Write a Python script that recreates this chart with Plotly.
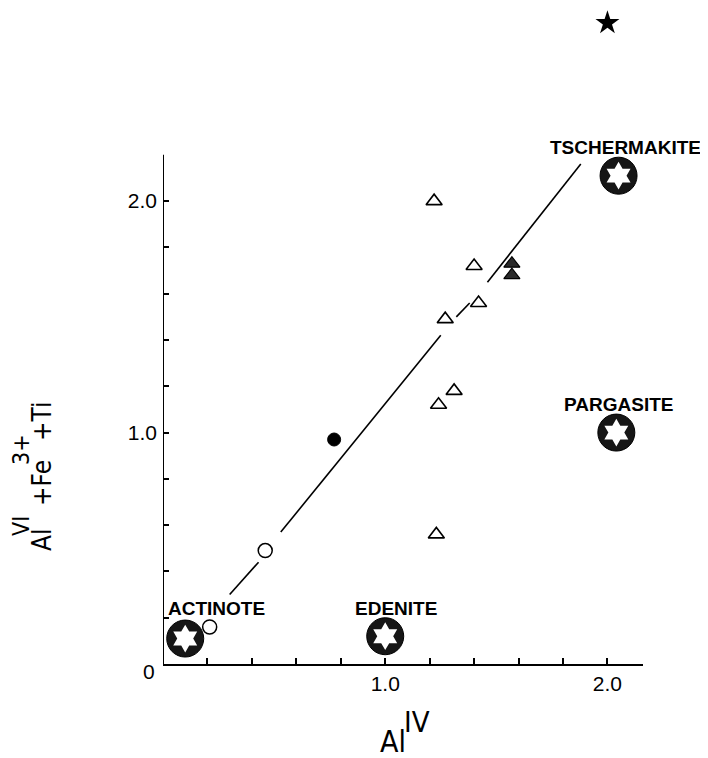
import plotly.graph_objects as go

# ---- data ----
open_circle_x = [0.21, 0.46]
open_circle_y = [0.16, 0.49]
filled_circle_x = [0.77]
filled_circle_y = [0.97]
open_tri_x = [1.22, 1.40, 1.42, 1.27, 1.31, 1.24, 1.23]
open_tri_y = [2.00, 1.72, 1.56, 1.49, 1.18, 1.12, 0.56]
filled_tri_x = [1.57, 1.57]
filled_tri_y = [1.73, 1.68]
end_names = ["ACTINOTE", "EDENITE", "PARGASITE", "TSCHERMAKITE"]
end_x = [0.10, 1.00, 2.04, 2.05]
end_y = [0.11, 0.12, 1.00, 2.11]
label_x = [0.24, 1.05, 2.05, 2.08]
label_y = [0.24, 0.24, 1.12, 2.23]
stray_star_x = [2.00]
stray_star_y = [2.77]
fit_x = [0.30, 0.43, None, 0.53, 1.25, None, 1.32, 1.38, None, 1.46, 1.88]
fit_y = [0.30, 0.44, None, 0.57, 1.42, None, 1.50, 1.56, None, 1.65, 2.16]
tick_vals = [0, 0.2, 0.4, 0.6, 0.8, 1.0, 1.2, 1.4, 1.6, 1.8, 2.0]
y_tick_text = ["", "", "", "", "", "1.0", "", "", "", "", "2.0"]
x_tick_text = ["", "", "", "", "", "1.0", "", "", "", "", "2.0"]
origin_label = "0"
x_max = 2.16
y_axis_top = 2.2
y_view_max = 2.8

OFF = 8  # default page body margin
W, H = 708, 758
L, R, T, B = 155, 73, 8, 102
pw, ph = W - L - R, H - T - B

def page2paper(px, py):
    return (px - OFF - L) / pw, (H - B - (py - OFF)) / ph

fig = go.Figure()

fig.add_trace(go.Scatter(x=fit_x, y=fit_y, mode="lines",
                         line=dict(color="black", width=1.6), hoverinfo="skip"))
fig.add_trace(go.Scatter(x=open_circle_x, y=open_circle_y, mode="markers",
                         marker=dict(symbol="circle", size=14, color="white",
                                     line=dict(color="black", width=1.5))))
fig.add_trace(go.Scatter(x=filled_circle_x, y=filled_circle_y, mode="markers",
                         marker=dict(symbol="circle", size=13, color="black",
                                     line=dict(color="black", width=1))))
fig.add_trace(go.Scatter(x=open_tri_x, y=open_tri_y, mode="markers",
                         marker=dict(symbol="triangle-up", size=14, color="white",
                                     line=dict(color="black", width=1.6))))
fig.add_trace(go.Scatter(x=filled_tri_x, y=filled_tri_y, mode="markers",
                         marker=dict(symbol="triangle-up", size=14, color="#2a2a2a",
                                     line=dict(color="black", width=1.2))))
fig.add_trace(go.Scatter(x=end_x, y=end_y, mode="markers", cliponaxis=False,
                         marker=dict(symbol="circle", size=37, color="#161616",
                                     line=dict(color="black", width=1))))
fig.add_trace(go.Scatter(x=end_x, y=end_y, mode="markers", cliponaxis=False,
                         marker=dict(symbol="hexagram", size=21, color="white",
                                     line=dict(width=0))))
fig.add_trace(go.Scatter(x=stray_star_x, y=stray_star_y, mode="markers", cliponaxis=False,
                         marker=dict(symbol="star", size=18, color="black",
                                     line=dict(width=0))))

tick_font = dict(family="Liberation Sans, Arial, sans-serif", size=21, color="black")

annotations = []
for name, lx, ly in zip(end_names, label_x, label_y):
    annotations.append(dict(x=lx, y=ly, xref="x", yref="y", text=name, showarrow=False,
                            xanchor="center", yanchor="middle",
                            font=dict(family="Liberation Sans, Arial, sans-serif", size=19,
                                      color="black", weight=700)))

# origin label "0" (sits slightly below the x axis line in the reference)
ox, oy = page2paper(149, 671)
annotations.append(dict(x=ox, y=oy, xref="paper", yref="paper", text=origin_label,
                        showarrow=False, xanchor="center", yanchor="middle", font=tick_font))

cond = "Liberation Sans Narrow, DejaVu Sans Condensed, Arial Narrow, sans-serif"
# x axis title: Al^IV
for txt, px, py, sz in [("Al", 393, 741, 30), ("IV", 417, 722, 29)]:
    ax, ay = page2paper(px, py)
    annotations.append(dict(x=ax, y=ay, xref="paper", yref="paper", text=txt, showarrow=False,
                            xanchor="center", yanchor="middle",
                            font=dict(family=cond, size=sz, color="black")))
# y axis title: Al^VI + Fe^3+ + Ti (rotated)
for txt, px, py, sz in [("Al", 42, 540, 26), ("VI", 21, 526, 23), ("+Fe", 42, 483, 26),
                        ("3+", 21, 450, 23), ("+Ti", 42, 421, 26)]:
    ax, ay = page2paper(px, py)
    annotations.append(dict(x=ax, y=ay, xref="paper", yref="paper", text=txt, showarrow=False,
                            xanchor="center", yanchor="middle", textangle=-90,
                            font=dict(family=cond, size=sz, color="black")))

axis_common = dict(showgrid=False, zeroline=False, linecolor="black",
                   linewidth=2, ticks="inside", ticklen=6, tickwidth=2, tickcolor="black",
                   tickvals=tick_vals, tickfont=tick_font)

fig.update_layout(
    width=W, height=H,
    margin=dict(l=L, r=R, t=T, b=B),
    paper_bgcolor="white", plot_bgcolor="white",
    showlegend=False,
    xaxis=dict(range=[0, x_max], ticktext=x_tick_text, showline=True, **axis_common),
    yaxis=dict(range=[0, y_view_max], ticktext=y_tick_text, showline=False,
               ticklabelstandoff=5, **axis_common),
    annotations=annotations,
    shapes=[dict(type="line", xref="x", yref="y", x0=0, x1=0, y0=0, y1=y_axis_top,
                 line=dict(color="black", width=2), layer="above")],
)

fig.write_html("out.html")
